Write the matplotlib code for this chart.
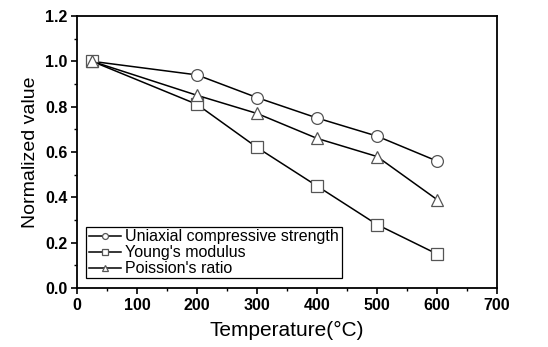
import matplotlib
matplotlib.use('Agg')
import matplotlib.pyplot as plt
from matplotlib.ticker import MultipleLocator

plt.rcParams['font.family'] = ['Liberation Sans', 'DejaVu Sans']

temps = [25, 200, 300, 400, 500, 600]
ucs = [1.0, 0.94, 0.84, 0.75, 0.67, 0.56]
youngs = [1.0, 0.81, 0.62, 0.45, 0.28, 0.15]
poisson = [1.0, 0.85, 0.77, 0.66, 0.58, 0.39]
labels = ['Uniaxial compressive strength', "Young's modulus", "Poission's ratio"]

fig = plt.figure(figsize=(5.48, 3.47), dpi=100)
ax = fig.add_axes([0.1405, 0.170, 0.7665, 0.784])

mk = dict(color='black', lw=1.1, markersize=8.5, markerfacecolor='white',
          markeredgecolor='#555555', markeredgewidth=0.9)
ax.plot(temps, ucs, marker='o', label=labels[0], **mk)
ax.plot(temps, youngs, marker='s', label=labels[1], **mk)
ax.plot(temps, poisson, marker='^', label=labels[2], **mk)

ax.set_xlim(0, 700)
ax.set_ylim(0.0, 1.2)
ax.xaxis.set_major_locator(MultipleLocator(100))
ax.xaxis.set_minor_locator(MultipleLocator(50))
ax.yaxis.set_major_locator(MultipleLocator(0.2))
ax.yaxis.set_minor_locator(MultipleLocator(0.1))
ax.set_yticklabels([f'{v:.1f}' for v in ax.get_yticks()])
ax.tick_params(which='major', direction='out', length=4, width=1.2, labelsize=11.5, pad=3)
ax.tick_params(which='minor', direction='out', length=2.5, width=1.0)
for t in ax.get_xticklabels() + ax.get_yticklabels():
    t.set_fontweight('bold')
for s in ax.spines.values():
    s.set_linewidth(1.3)

ax.set_xlabel('Temperature(°C)', fontsize=15, labelpad=6)
ax.set_ylabel('Normalized value', fontsize=14, labelpad=4)

leg = ax.legend(loc='lower left', bbox_to_anchor=(0.022, 0.035), fontsize=11.5,
                markerscale=0.5, handlelength=2.0, handletextpad=0.3,
                borderpad=0.15, labelspacing=0.05, borderaxespad=0,
                fancybox=False, edgecolor='black', framealpha=1)
leg.get_frame().set_linewidth(0.9)

fig.savefig('out.png', dpi=100)
